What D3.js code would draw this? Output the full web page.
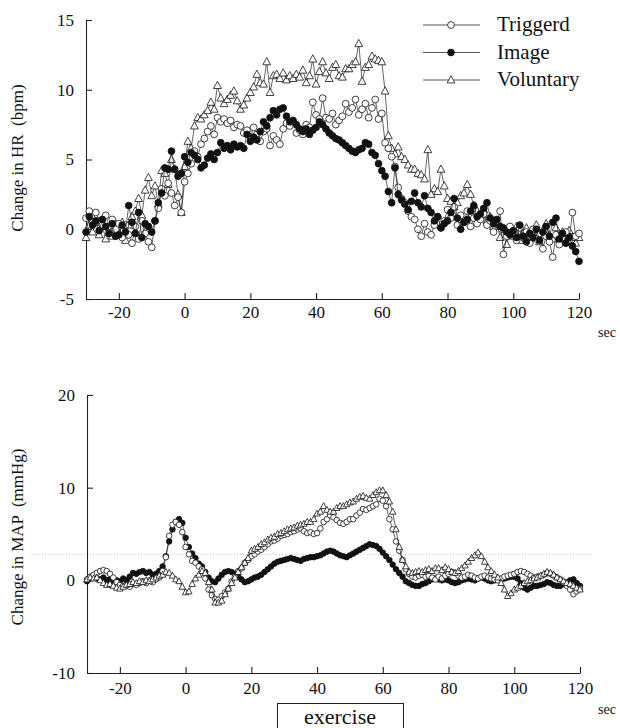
<!DOCTYPE html>
<html>
<head>
<meta charset="utf-8">
<script src="https://cdn.jsdelivr.net/npm/d3@7"></script>
<style>
  body { margin: 0; background: #fff; }
  svg { display: block; }
  text { font-family: "Liberation Serif", "DejaVu Serif", "Times New Roman", Times, serif; fill: #111; }
</style>
</head>
<body>
<div id="chart"></div>
<script>
// seconds -30 .. 120, one reading per second
const times = d3.range(-30, 121);

const seriesNames = ["Triggerd", "Image", "Voluntary"];

const xTicks = [-20, 0, 20, 40, 60, 80, 100, 120];
const hrTicks = [-5, 0, 5, 10, 15];
const mapTicks = [-10, 0, 10, 20];

const serif = "'Liberation Serif', 'DejaVu Serif', 'Times New Roman', Times, serif";

// Change in HR (bpm)
const hrTrig = [
  0.8, 1.3, 0.5, 1.2, 0.6, 0.3, 1.0, 0.2, 0.7, 0.0,
  0.4, -0.6, 0.3, -0.4, -1.0, 0.2, -0.7, 0.6, -0.3, -0.9,
  -1.3, 0.6, 1.5, 2.9, 2.4, 3.3, 2.6, 1.7, 2.3, 1.2,
  3.4, 4.0, 4.7, 5.6, 5.2, 6.1, 6.5, 7.0, 7.4, 6.8,
  8.0, 7.7, 7.9, 7.6, 7.8, 7.3, 7.5, 7.4, 6.9, 7.1,
  6.6, 7.3, 6.8, 6.3, 7.0, 7.2, 6.0, 6.7, 6.4, 6.1,
  7.2, 7.6, 7.4, 7.7, 6.9, 7.1, 6.8, 7.5, 7.3, 9.1,
  8.2, 7.9, 9.4, 8.0, 7.9, 8.3, 7.5, 7.8, 8.1, 9.0,
  8.4, 8.7, 9.3, 8.2, 8.6, 9.0, 8.0, 8.7, 9.3, 7.9,
  8.3, 6.2, 5.8, 5.2, 4.5, 3.0, 2.2, 1.9, 1.3, 0.9,
  0.7, 0.0, -0.5, 0.4, -0.2, -0.4, 0.3, 0.9, 0.1, 0.6,
  1.4, 0.8, 1.6, 0.3, 1.0, 0.5, 1.3, 0.2, 0.8, 0.4,
  0.7, 1.1, 0.3, 0.6, -0.2, 0.4, 1.3, -1.8, -0.5, 0.2,
  -0.4, -0.8, 0.1, -0.6, -0.2, -1.0, 0.0, -0.7, -0.3, -1.4,
  -0.5, -0.9, -2.0, -0.4, -1.1, -0.6, -0.2, -0.8, 1.2, -0.5,
  -0.3
];
const hrImg = [
  -0.2, 0.9, 0.3, 0.6, -0.1, 0.7, 0.2, -0.3, 0.4, -0.5,
  -0.4, 0.3, -0.2, 1.7, 0.5, -0.3, 1.2, -0.6, 0.4, 0.2,
  -0.2, 0.6, 1.9, 2.6, 4.4, 4.3, 5.6, 4.3, 3.8, 4.0,
  5.2, 4.8, 5.5, 5.3, 5.0, 4.4, 4.6, 5.1, 5.4, 5.0,
  5.5, 6.2, 5.8, 6.0, 5.7, 6.1, 5.9, 6.0, 5.8, 6.8,
  6.3, 6.6, 6.4, 7.0, 7.7, 7.4, 8.0, 8.5, 8.2, 8.6,
  8.7, 8.1, 7.7, 7.8, 7.5, 7.2, 7.0, 7.2, 6.8, 7.1,
  7.3, 7.7, 7.5, 7.2, 6.9, 6.7, 6.5, 6.4, 6.2, 6.0,
  5.8, 5.6, 5.5, 5.7, 5.8, 6.2, 6.1, 5.5, 5.3, 4.7,
  4.2, 3.8, 2.7, 1.9, 4.4, 2.5, 2.1, 1.8, 1.4, 2.0,
  2.6, 1.9, 1.6, 2.4, 1.5, 1.2, 0.6, 0.9, 0.1, 0.4,
  0.6, 1.2, 2.2, 0.8, 0.0, 0.5, 0.7, 1.3, 1.7, 0.9,
  1.1, 1.5, 1.9, 0.8, 0.4, 0.7, 0.2, 0.1, -0.2, -0.4,
  -0.1, -0.6, 0.3, -0.5, -0.9, -0.3, -0.6, 0.0, -0.8, -0.2,
  0.2, -0.5, 0.5, 0.8, -0.7, -0.3, -1.0, -0.6, -1.2, -1.6,
  -2.3
];
const hrVol = [
  -0.6, 0.3, -0.2, 0.5, -0.4, 0.2, -0.7, 0.1, -0.5, 0.4,
  -0.3, 0.5, -0.8, 0.3, 0.9, 1.3, 2.2, 1.0, 2.8, 3.7,
  2.4, 3.1, 1.8, 4.2, 4.0, 3.2, 5.0, 4.3, 2.5, 1.2,
  4.5, 6.3, 5.8, 7.4, 8.0, 7.9, 8.2, 8.5, 9.1, 8.6,
  10.3, 9.4, 9.0, 9.3, 9.6, 9.9, 9.2, 8.6, 8.9, 9.4,
  9.8, 10.2, 11.1, 10.5, 10.4, 12.0, 9.8, 11.0, 11.1, 10.8,
  11.2, 10.7, 11.0, 10.8, 11.1, 10.9, 11.4, 10.5, 11.0, 12.2,
  10.4, 11.3, 12.0, 11.2, 10.8, 11.6, 11.8, 11.0, 10.9, 11.5,
  11.5, 11.8, 12.0, 13.3, 10.6, 11.6, 11.8, 12.4, 12.2, 12.1,
  12.0, 9.9, 6.7, 5.8, 5.4, 5.9, 5.2, 5.0, 4.6, 4.3,
  4.3, 4.0, 3.9, 3.6, 5.7, 2.5, 2.9, 2.7, 4.3, 3.1,
  2.2, 2.0, 1.6, 1.9, 2.4, 2.6, 3.2, 2.5, 1.7, 1.3,
  1.0, 1.4, 0.6, 0.9, 0.2, 0.5, -0.6, 0.0, -1.1, -0.3,
  -0.5, 0.2, -0.8, -0.2, 0.1, -0.6, -0.3, 0.3, -0.9, -0.1,
  0.4, -0.4, -0.7, 0.1, -0.5, -0.2, -0.9, -0.1, -0.6, -1.0,
  -0.6
];

// Change in MAP (mmHg)
const mapTrig = [
  0.1, 0.4, 0.6, 0.8, 1.0, 1.1, 1.0, 0.7, 0.3, -0.2,
  -0.5, -0.6, -0.5, -0.7, -0.4, -0.5, -0.3, -0.1, -0.3, 0.0,
  -0.2, 0.1, 0.3, 1.0, 2.5, 4.8, 6.0, 6.3, 6.0, 5.2,
  3.6, 2.8, 2.1, 1.9, 1.5, 1.2, 0.2, -1.0, -1.6, -2.0,
  -2.1, -1.7, -1.3, -0.9, -0.1, 0.4, 1.0, 1.3, 1.9, 2.2,
  2.6, 2.8, 3.1, 3.3, 3.6, 3.9, 4.2, 4.3, 4.5, 4.8,
  4.9, 5.0, 5.2, 5.3, 5.5, 5.6, 5.3, 5.1, 5.2, 5.0,
  5.1, 5.6, 6.3, 6.6, 7.0, 6.8, 6.5, 6.2, 6.1, 6.3,
  6.6, 6.6, 7.0, 7.3, 7.7, 7.6, 7.8, 8.0, 8.2, 8.8,
  8.6, 8.0, 6.6, 5.5, 4.2, 3.2, 2.2, 1.2, 0.7, 0.4,
  0.3, 0.5, 0.6, 0.4, 0.5, 0.3, 0.1, 0.4, 0.2, 0.5,
  0.7, 0.9, 0.8, 0.5, 0.3, 0.4, 0.6, 0.5, 0.3, 0.2,
  0.4, 0.5, 0.3, 0.2, 0.1, 0.0, 0.2, 0.4, 0.5, 0.6,
  0.7, 0.9, 1.0, 0.9, 0.7, 0.5, 0.3, 0.4, 0.5, 0.6,
  0.8, 0.7, 0.5, 0.3, 0.1, -0.2, -0.6, -1.0, -1.5, -1.2,
  -0.9
];
const mapImg = [
  -0.1, 0.2, 0.4, 0.2, 0.1, 0.3, 0.0, 0.1, -0.2, 0.0,
  -0.1, 0.2, 0.0, 0.4, 0.8, 0.7, 0.9, 1.0, 0.8, 0.9,
  0.6, 0.7, 1.0, 1.5, 2.6, 4.2, 5.5, 6.3, 6.6, 6.2,
  4.6, 3.6, 2.9, 2.4, 1.8, 1.5, 0.9, 0.3, -0.1, -0.2,
  0.2, 0.6, 0.9, 1.0, 0.9, 0.7, 0.4, 0.1, -0.2, -0.1,
  0.1, 0.3, 0.4, 0.6, 0.9, 1.2, 1.5, 1.8, 2.0, 2.1,
  2.2, 2.3, 2.4, 2.3, 2.2, 2.1, 2.3, 2.4, 2.5, 2.5,
  2.6, 2.7, 2.9, 3.1, 3.2, 3.1, 2.9, 2.7, 2.6, 2.5,
  2.7, 2.9, 3.1, 3.3, 3.5, 3.7, 3.9, 3.8, 3.7, 3.4,
  3.0, 2.6, 2.2, 1.7, 1.2, 0.8, 0.4, -0.1, -0.3, -0.5,
  -0.6, -0.6, -0.4, -0.3, -0.1, 0.1, 0.2, 0.1, 0.0, 0.1,
  0.0, -0.2, -0.3, -0.2, 0.0, 0.1, 0.2, 0.1, 0.0, 0.2,
  0.3, 0.2, 0.0, -0.1, 0.0, 0.1, 0.1, 0.2, 0.3, 0.4,
  0.4, 0.2, -0.3, -0.8, -1.0, -0.8, -0.6, -0.6, -0.5, -0.4,
  -0.2, -0.3, -0.5, -0.6, -0.6, -0.4, -0.2, 0.0, 0.1, -0.3,
  -0.6
];
const mapVol = [
  0.1, 0.3, 0.2, 0.3, 0.0, -0.3, -0.5, -0.4, -0.6, -0.8,
  -0.9, -0.7, -0.5, -0.4, -0.2, -0.3, -0.1, -0.2, 0.0, -0.1,
  0.1, 0.3, 0.5, 0.6, 0.9, 0.8, 0.5, 0.1, -0.1, -0.7,
  -1.3, -1.2, -0.4, 0.2, 0.6, 1.0, 0.8, -0.2, -1.0, -2.4,
  -2.4, -2.2, -1.5, -0.9, -0.3, 0.3, 0.9, 1.4, 1.9, 2.4,
  3.2, 3.4, 3.6, 3.9, 4.1, 4.4, 4.6, 4.7, 5.0, 5.1,
  5.3, 5.5, 5.6, 5.7, 5.9, 6.0, 6.1, 6.3, 6.3, 6.6,
  7.2, 7.4, 8.0, 7.6, 7.4, 7.4, 7.8, 8.0, 8.0, 8.2,
  8.4, 8.5, 8.8, 9.0, 9.1, 8.9, 8.8, 9.2, 9.5, 9.7,
  9.7, 9.2, 8.5, 7.4, 5.5, 3.6, 2.2, 1.5, 0.9, 0.8,
  0.9, 1.0, 0.9, 1.1, 1.2, 1.0, 1.3, 1.3, 1.1, 1.4,
  1.2, 0.9, 0.8, 1.0, 1.3, 1.6, 2.0, 2.4, 2.7, 3.0,
  2.6, 2.0, 1.4, 1.0, 0.6, 0.3, -0.3, -1.0, -1.7, -1.4,
  -1.0, -0.8, -0.6, -0.3, -0.1, 0.0, 0.2, 0.3, 0.5, 0.7,
  0.9, 0.8, 0.6, 0.3, 0.1, -0.1, -0.3, -0.4, -0.6, -0.8,
  -1.0
];

const width = 620, height = 728;

const svg = d3.select("#chart").append("svg")
    .attr("width", width)
    .attr("height", height)
    .attr("font-family", serif);

// marker drawing: kind is "open", "filled" or "triangle"
function marker(sel, kind, r) {
    if (kind === "triangle") {
        const s = r * 1.15;
        sel.append("path")
            .attr("d", `M0,${-s * 1.1}L${s},${s * 0.75}L${-s},${s * 0.75}Z`)
            .attr("fill", "#fff")
            .attr("stroke", "#111")
            .attr("stroke-width", 0.8);
    } else {
        sel.append("circle")
            .attr("r", r)
            .attr("fill", kind === "filled" ? "#111" : "#fff")
            .attr("stroke", "#111")
            .attr("stroke-width", 0.8);
    }
}

function panel(opts) {
    const x = d3.scaleLinear().domain([-30, 120]).range(opts.xr);
    const y = d3.scaleLinear().domain(opts.yd).range(opts.yr);
    const g = svg.append("g");

    if (opts.refLine !== undefined) {
        g.append("line")
            .attr("x1", 30).attr("x2", 592)
            .attr("y1", y(opts.refLine)).attr("y2", y(opts.refLine))
            .attr("stroke", "#bbb")
            .attr("stroke-width", 0.8)
            .attr("stroke-dasharray", "1,2");
    }

    const xAxis = g.append("g")
        .attr("transform", `translate(0,${opts.yr[0]})`)
        .call(d3.axisBottom(x).tickValues(xTicks).tickSizeInner(-6).tickSizeOuter(0)
            .tickPadding(opts.xPad).tickFormat(d => String(d)));
    const yAxis = g.append("g")
        .attr("transform", `translate(${opts.xr[0]},0)`)
        .call(d3.axisLeft(y).tickValues(opts.yTicks).tickSizeInner(-6).tickSizeOuter(0)
            .tickPadding(12).tickFormat(d => String(d)));
    [xAxis, yAxis].forEach(a => {
        a.attr("font-family", serif).attr("font-size", 17);
        a.selectAll("path, line").attr("stroke", "#222").attr("stroke-width", 1.1);
        a.selectAll("text").attr("fill", "#111");
    });

    const line = d3.line().x(d => x(d.t)).y(d => y(d.v));

    opts.series.forEach(s => {
        const pts = times.map((t, i) => ({t: t, v: s.values[i]}));
        g.append("path")
            .datum(pts)
            .attr("d", line)
            .attr("fill", "none")
            .attr("stroke", "#222")
            .attr("stroke-width", 0.7);
        const m = g.append("g").selectAll("g")
            .data(pts)
            .join("g")
            .attr("transform", d => `translate(${x(d.t)},${y(d.v)})`);
        marker(m, s.kind, opts.r);
    });

    // y title
    g.append("text")
        .attr("transform", `translate(23,${opts.titleY}) rotate(-90)`)
        .attr("text-anchor", "middle")
        .attr("font-size", 17)
        .style("white-space", "pre")
        .text(opts.title);

    // sec
    g.append("text")
        .attr("x", 598)
        .attr("y", opts.yr[0] + opts.secDy)
        .attr("font-size", 14)
        .text("sec");
}

// upper panel: heart rate
panel({
    xr: [86, 579], yr: [299, 20], yd: [-5, 15], yTicks: hrTicks,
    xPad: 7, r: 3.4, title: "Change in HR  (bpm)", titleY: 158, secDy: 38,
    series: [
        {values: hrVol, kind: "triangle"},
        {values: hrTrig, kind: "open"},
        {values: hrImg, kind: "filled"}
    ]
});

// lower panel: mean arterial pressure
panel({
    xr: [87, 580], yr: [673, 395], yd: [-10, 20], yTicks: mapTicks,
    xPad: 9, r: 2.8, title: "Change in MAP  (mmHg)", titleY: 537, secDy: 41,
    refLine: 2.8,
    series: [
        {values: mapImg, kind: "filled"},
        {values: mapTrig, kind: "open"},
        {values: mapVol, kind: "triangle"}
    ]
});

// legend
const legendKinds = ["open", "filled", "triangle"];
const legend = svg.append("g")
    .selectAll("g")
    .data(seriesNames)
    .join("g")
    .attr("transform", (d, i) => `translate(0,${25 + i * 27.5})`);
legend.append("line")
    .attr("x1", 423).attr("x2", 480)
    .attr("stroke", "#444")
    .attr("stroke-width", 0.9);
legend.each(function (d, i) {
    const m = d3.select(this).append("g").attr("transform", "translate(451,0)");
    marker(m, legendKinds[i], 3.4);
});
legend.append("text")
    .attr("x", 497)
    .attr("y", 6)
    .attr("font-size", 21)
    .text(d => d);

// exercise bar under the lower axis
const ex = svg.append("g");
ex.append("rect")
    .attr("x", 277.5).attr("y", 703.5)
    .attr("width", 126).attr("height", 40)
    .attr("fill", "#fff")
    .attr("stroke", "#222")
    .attr("stroke-width", 1);
ex.append("text")
    .attr("x", 340)
    .attr("y", 724)
    .attr("text-anchor", "middle")
    .attr("font-size", 22)
    .text("exercise");
</script>
</body>
</html>
